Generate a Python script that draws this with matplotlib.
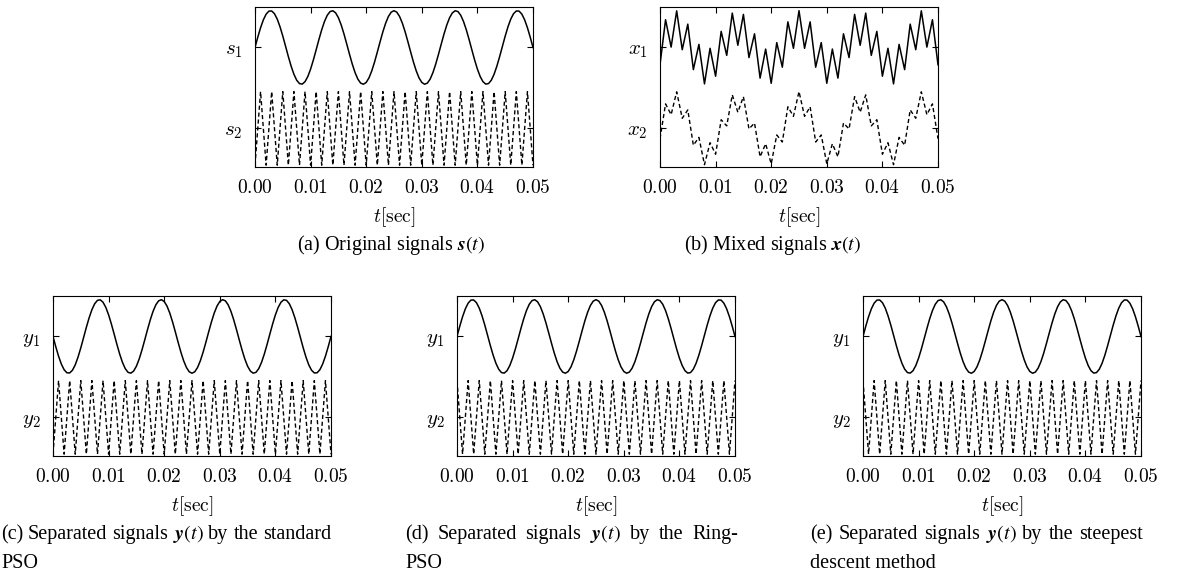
import numpy as np
import matplotlib
matplotlib.use('Agg')
import matplotlib.pyplot as plt

plt.rcParams['mathtext.fontset'] = 'cm'

# ---- data ----
# smooth 90 Hz source, one value every 0.5 ms (0 .. 0.05 s)
DT_FINE = 0.0005
# sampled signals, one value every 1 ms
DT = 0.001

s1 = [0.000, 0.279, 0.536, 0.750, 0.905, 0.988, 0.992, 0.918, 0.771, 0.562,
      0.309, 0.031, -0.249, -0.509, -0.729, -0.891, -0.982, -0.996, -0.930, -0.790,
      -0.588, -0.339, -0.063, 0.218, 0.482, 0.707, 0.876, 0.976, 0.998, 0.941,
      0.809, 0.613, 0.368, 0.094, -0.187, -0.454, -0.685, -0.861, -0.969, -1.000,
      -0.951, -0.827, -0.637, -0.397, -0.125, 0.156, 0.426, 0.661, 0.844, 0.960,
      1.000, 0.960, 0.844, 0.661, 0.426, 0.156, -0.125, -0.397, -0.637, -0.827,
      -0.951, -1.000, -0.969, -0.861, -0.685, -0.454, -0.187, 0.094, 0.368, 0.613,
      0.809, 0.941, 0.998, 0.976, 0.876, 0.707, 0.482, 0.218, -0.063, -0.339,
      -0.588, -0.790, -0.930, -0.996, -0.982, -0.891, -0.729, -0.509, -0.249, 0.031,
      0.309, 0.562, 0.771, 0.918, 0.992, 0.988, 0.905, 0.750, 0.536, 0.279, 0.000]

s2 = [-1, 1, -1, 1, -1, 1, -1, 1, -1, 1,
      -1, 1, -1, 1, -1, 1, -1, 1, -1, 1,
      -1, 1, -1, 1, -1, 1, -1, 1, -1, 1,
      -1, 1, -1, 1, -1, 1, -1, 1, -1, 1,
      -1, 1, -1, 1, -1, 1, -1, 1, -1, 1, -1]

x1 = [-0.470, 0.754, 0.010, 0.996, -0.061, 0.634, -0.602, 0.084, -0.990, -0.023,
      -0.782, 0.437, -0.215, 0.934, 0.059, 0.899, -0.275, 0.371, -0.833, -0.044,
      -0.974, 0.132, -0.536, 0.696, -0.023, 1.000, -0.023, 0.696, -0.536, 0.132,
      -0.974, -0.044, -0.833, 0.371, -0.275, 0.899, 0.059, 0.934, -0.215, 0.437,
      -0.782, -0.023, -0.990, 0.084, -0.602, 0.634, -0.061, 0.996, 0.010, 0.754, -0.470]

x2 = [-0.280, 0.666, 0.372, 0.994, 0.275, 0.502, -0.459, -0.245, -0.987, -0.390,
      -0.703, 0.235, 0.067, 0.911, 0.439, 0.862, -0.015, 0.145, -0.773, -0.418,
      -0.965, -0.179, -0.370, 0.587, 0.328, 1.000, 0.328, 0.587, -0.370, -0.179,
      -0.965, -0.418, -0.773, 0.145, -0.015, 0.862, 0.439, 0.911, 0.067, 0.235,
      -0.703, -0.390, -0.987, -0.245, -0.459, 0.502, 0.275, 0.994, 0.372, 0.666, -0.280]

# standard PSO: first output comes out inverted
y1_standard = [0.000, -0.279, -0.536, -0.750, -0.905, -0.988, -0.992, -0.918, -0.771, -0.562,
               -0.309, -0.031, 0.249, 0.509, 0.729, 0.891, 0.982, 0.996, 0.930, 0.790,
               0.588, 0.339, 0.063, -0.218, -0.482, -0.707, -0.876, -0.976, -0.998, -0.941,
               -0.809, -0.613, -0.368, -0.094, 0.187, 0.454, 0.685, 0.861, 0.969, 1.000,
               0.951, 0.827, 0.637, 0.397, 0.125, -0.156, -0.426, -0.661, -0.844, -0.960,
               -1.000, -0.960, -0.844, -0.661, -0.426, -0.156, 0.125, 0.397, 0.637, 0.827,
               0.951, 1.000, 0.969, 0.861, 0.685, 0.454, 0.187, -0.094, -0.368, -0.613,
               -0.809, -0.941, -0.998, -0.976, -0.876, -0.707, -0.482, -0.218, 0.063, 0.339,
               0.588, 0.790, 0.930, 0.996, 0.982, 0.891, 0.729, 0.509, 0.249, -0.031,
               -0.309, -0.562, -0.771, -0.918, -0.992, -0.988, -0.905, -0.750, -0.536, -0.279, 0.000]
y2_standard = [-1, 1, -1, 1, -1, 1, -1, 1, -1, 1,
               -1, 1, -1, 1, -1, 1, -1, 1, -1, 1,
               -1, 1, -1, 1, -1, 1, -1, 1, -1, 1,
               -1, 1, -1, 1, -1, 1, -1, 1, -1, 1,
               -1, 1, -1, 1, -1, 1, -1, 1, -1, 1, -1]

y1_ring = [0.000, 0.279, 0.536, 0.750, 0.905, 0.988, 0.992, 0.918, 0.771, 0.562,
           0.309, 0.031, -0.249, -0.509, -0.729, -0.891, -0.982, -0.996, -0.930, -0.790,
           -0.588, -0.339, -0.063, 0.218, 0.482, 0.707, 0.876, 0.976, 0.998, 0.941,
           0.809, 0.613, 0.368, 0.094, -0.187, -0.454, -0.685, -0.861, -0.969, -1.000,
           -0.951, -0.827, -0.637, -0.397, -0.125, 0.156, 0.426, 0.661, 0.844, 0.960,
           1.000, 0.960, 0.844, 0.661, 0.426, 0.156, -0.125, -0.397, -0.637, -0.827,
           -0.951, -1.000, -0.969, -0.861, -0.685, -0.454, -0.187, 0.094, 0.368, 0.613,
           0.809, 0.941, 0.998, 0.976, 0.876, 0.707, 0.482, 0.218, -0.063, -0.339,
           -0.588, -0.790, -0.930, -0.996, -0.982, -0.891, -0.729, -0.509, -0.249, 0.031,
           0.309, 0.562, 0.771, 0.918, 0.992, 0.988, 0.905, 0.750, 0.536, 0.279, 0.000]
y2_ring = [1, -1, 1, -1, 1, -1, 1, -1, 1, -1,
           1, -1, 1, -1, 1, -1, 1, -1, 1, -1,
           1, -1, 1, -1, 1, -1, 1, -1, 1, -1,
           1, -1, 1, -1, 1, -1, 1, -1, 1, -1,
           1, -1, 1, -1, 1, -1, 1, -1, 1, -1, 1]

y1_steepest = [0.000, 0.279, 0.536, 0.750, 0.905, 0.988, 0.992, 0.918, 0.771, 0.562,
               0.309, 0.031, -0.249, -0.509, -0.729, -0.891, -0.982, -0.996, -0.930, -0.790,
               -0.588, -0.339, -0.063, 0.218, 0.482, 0.707, 0.876, 0.976, 0.998, 0.941,
               0.809, 0.613, 0.368, 0.094, -0.187, -0.454, -0.685, -0.861, -0.969, -1.000,
               -0.951, -0.827, -0.637, -0.397, -0.125, 0.156, 0.426, 0.661, 0.844, 0.960,
               1.000, 0.960, 0.844, 0.661, 0.426, 0.156, -0.125, -0.397, -0.637, -0.827,
               -0.951, -1.000, -0.969, -0.861, -0.685, -0.454, -0.187, 0.094, 0.368, 0.613,
               0.809, 0.941, 0.998, 0.976, 0.876, 0.707, 0.482, 0.218, -0.063, -0.339,
               -0.588, -0.790, -0.930, -0.996, -0.982, -0.891, -0.729, -0.509, -0.249, 0.031,
               0.309, 0.562, 0.771, 0.918, 0.992, 0.988, 0.905, 0.750, 0.536, 0.279, 0.000]
y2_steepest = [1, -1, 1, -1, 1, -1, 1, -1, 1, -1,
               1, -1, 1, -1, 1, -1, 1, -1, 1, -1,
               1, -1, 1, -1, 1, -1, 1, -1, 1, -1,
               1, -1, 1, -1, 1, -1, 1, -1, 1, -1,
               1, -1, 1, -1, 1, -1, 1, -1, 1, -1, 1]

tick_vals = [0.00, 0.01, 0.02, 0.03, 0.04, 0.05]
tick_labels = ['$0.00$', '$0.01$', '$0.02$', '$0.03$', '$0.04$', '$0.05$']
xlabel = r'$t[\mathrm{sec}]$'

# ---- layout (pixels) ----
W, H = 1186, 574
AX_W, AX_H = 278, 160
OFFSET = 1.1
FS = 14
CAP_FS = 14.5
CAP_FONT = 'Liberation Serif'

fig = plt.figure(figsize=(W / 100, H / 100), dpi=100)


def make_panel(left, top, top_sig, top_dt, bot_sig, bot_dt, ylabels):
    ax = fig.add_axes([left / W, 1 - (top + AX_H) / H, AX_W / W, AX_H / H])
    t_top = np.arange(len(top_sig)) * top_dt
    t_bot = np.arange(len(bot_sig)) * bot_dt
    ax.plot(t_top, np.array(top_sig) + OFFSET, color='black', lw=1.1)
    ax.plot(t_bot, np.array(bot_sig) - OFFSET, color='black', lw=1.0,
            ls=(0, (3, 2)))
    ax.set_xlim(0, 0.05)
    ax.set_ylim(-2.15, 2.2)
    ax.set_xticks(tick_vals)
    ax.set_xticklabels(tick_labels)
    ax.set_yticks([OFFSET, -OFFSET])
    ax.set_yticklabels(ylabels, fontsize=15)
    ax.tick_params(axis='both', direction='in', top=True, right=True,
                   length=4, width=0.8)
    ax.tick_params(axis='x', pad=8, labelsize=FS)
    ax.tick_params(axis='y', pad=9)
    for sp in ax.spines.values():
        sp.set_linewidth(0.8)
    # x label below the tick labels
    fig.text((left + AX_W / 2) / W, 1 - (top + AX_H + 55) / H, xlabel,
             ha='center', va='baseline', fontsize=FS)
    return ax


make_panel(255, 7, s1, DT_FINE, s2, DT, ['$s_1$', '$s_2$'])
make_panel(660, 7, x1, DT, x2, DT, ['$x_1$', '$x_2$'])
make_panel(53, 296, y1_standard, DT_FINE, y2_standard, DT, ['$y_1$', '$y_2$'])
make_panel(457, 296, y1_ring, DT_FINE, y2_ring, DT, ['$y_1$', '$y_2$'])
make_panel(863, 296, y1_steepest, DT_FINE, y2_steepest, DT, ['$y_1$', '$y_2$'])


def cap_text(x, y, s, **kw):
    return fig.text(x / W, 1 - y / H, s, fontsize=CAP_FS, family=CAP_FONT,
                    math_fontfamily='stix', va='baseline', **kw)


# captions of the top row, centred
cap_text(391, 250, r'(a) Original signals $\mathbfit{s}(t)$', ha='center')
cap_text(773, 250, r'(b) Mixed signals $\mathbfit{x}(t)$', ha='center')

# captions of the bottom row, justified first line
renderer = fig.canvas.get_renderer()


def justified(words, x0, x1, y):
    texts = [cap_text(x0, y, w, ha='left') for w in words]
    widths = [t.get_window_extent(renderer).width for t in texts]
    gap = (x1 - x0 - sum(widths)) / (len(texts) - 1)
    x = x0
    for t, w in zip(texts, widths):
        t.set_x(x / W)
        x += w + gap


ycap = r'$\mathbfit{y}(t)$'
justified(['(c)', 'Separated', 'signals', ycap, 'by', 'the', 'standard'], 1, 331, 539)
cap_text(1, 568, 'PSO', ha='left')
justified(['(d)', 'Separated', 'signals', ycap, 'by', 'the', 'Ring-'], 405, 738, 539)
cap_text(405, 568, 'PSO', ha='left')
justified(['(e)', 'Separated', 'signals', ycap, 'by', 'the', 'steepest'], 810, 1143, 539)
cap_text(810, 568, 'descent method', ha='left')

fig.savefig('out.png', dpi=100)
